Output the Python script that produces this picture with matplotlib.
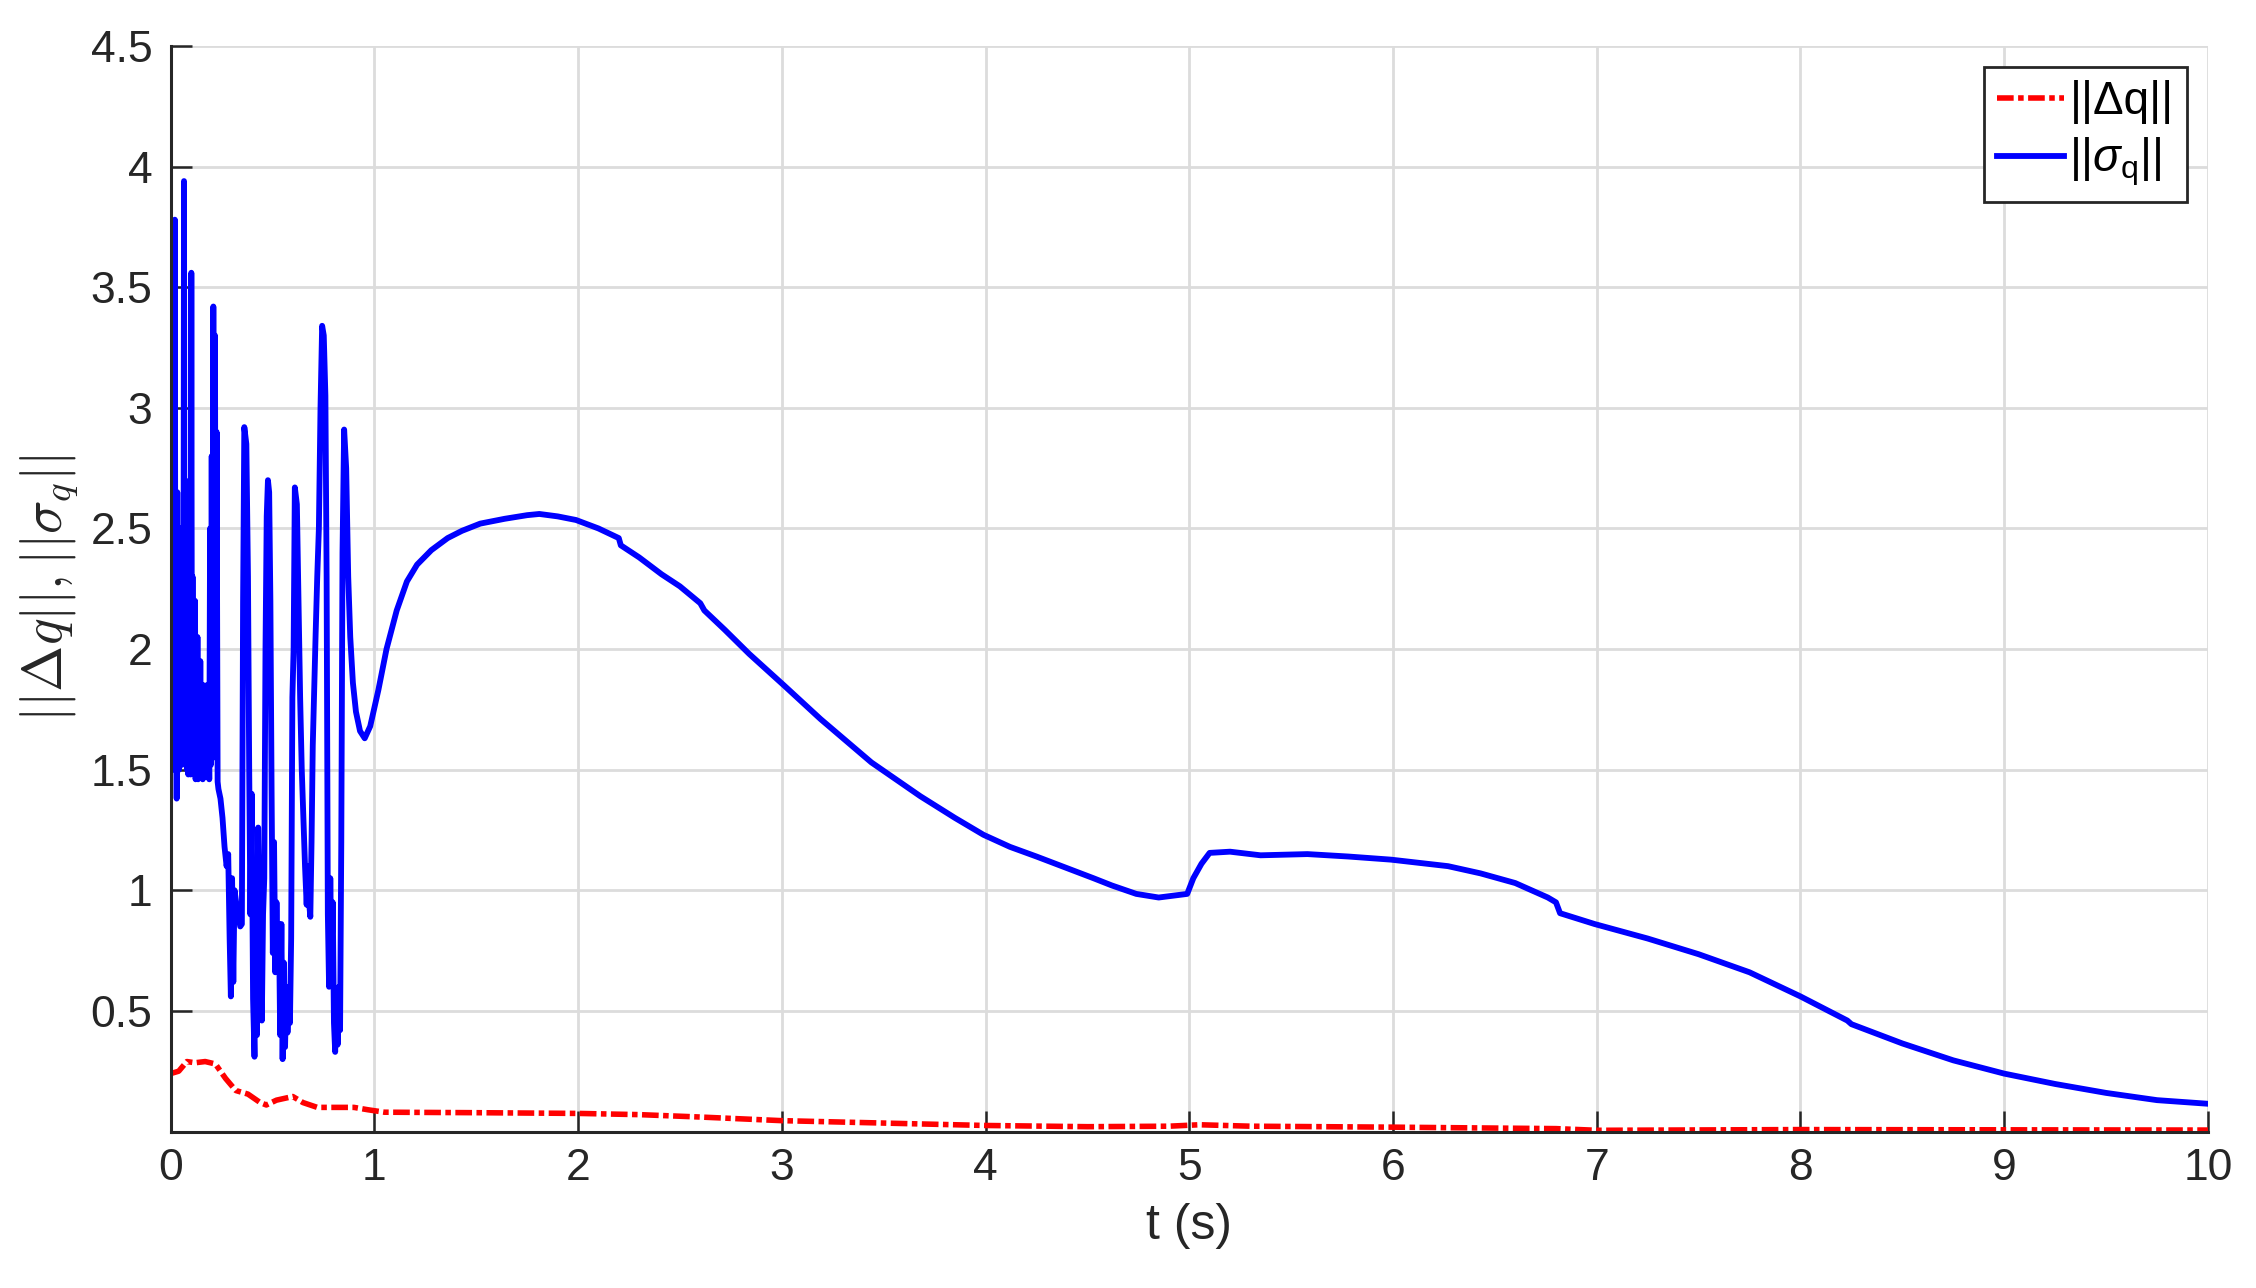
import matplotlib
matplotlib.use("Agg")
import matplotlib.pyplot as plt
from matplotlib.font_manager import FontProperties

plt.rcParams["font.family"] = ["Liberation Sans", "DejaVu Sans"]
plt.rcParams["mathtext.fontset"] = "custom"
plt.rcParams["mathtext.rm"] = "Liberation Sans"
plt.rcParams["mathtext.it"] = "Liberation Sans:italic"
plt.rcParams["mathtext.bf"] = "Liberation Sans:bold"

# ||sigma_q|| : oscillating start, then the smooth part
t_sigma = [
    0.000, 0.003, 0.006, 0.009, 0.012, 0.015, 0.018, 0.021, 0.024, 0.027,
    0.030, 0.033, 0.036, 0.039, 0.042, 0.045, 0.048, 0.052, 0.056, 0.060,
    0.063, 0.066, 0.069, 0.072, 0.075, 0.078, 0.081, 0.084, 0.087, 0.090,
    0.093, 0.096, 0.099, 0.102, 0.105, 0.108, 0.111, 0.114, 0.117, 0.120,
    0.123, 0.126, 0.129, 0.132, 0.135, 0.138, 0.142, 0.146, 0.150, 0.154,
    0.158, 0.162, 0.166, 0.170, 0.174, 0.178, 0.182, 0.186, 0.190, 0.194,
    0.198, 0.202, 0.206, 0.210, 0.214, 0.218, 0.222, 0.226, 0.231,
    0.235, 0.245, 0.255,
    0.265, 0.275, 0.283, 0.290, 0.296, 0.302, 0.308, 0.314, 0.322, 0.332,
    0.342, 0.350, 0.356, 0.362, 0.372, 0.380, 0.386, 0.392, 0.398, 0.405,
    0.412, 0.418, 0.424, 0.430, 0.436, 0.442, 0.448, 0.454, 0.460, 0.466,
    0.472, 0.478, 0.484, 0.490, 0.496, 0.502, 0.508, 0.514, 0.520, 0.526,
    0.532, 0.538, 0.544, 0.550, 0.556, 0.562, 0.568, 0.574, 0.580, 0.586,
    0.592, 0.598, 0.604, 0.610, 0.620, 0.628, 0.636, 0.644, 0.652, 0.660,
    0.668, 0.674, 0.680, 0.686, 0.692, 0.698, 0.704, 0.712, 0.720, 0.728,
    0.736, 0.744, 0.752, 0.760, 0.766, 0.772, 0.778, 0.784, 0.790, 0.796,
    0.802, 0.808, 0.814, 0.820, 0.826, 0.832, 0.838, 0.844, 0.852, 0.862,
    0.872, 0.882, 0.895, 0.910, 0.930, 0.953, 0.980, 1.020, 1.060, 1.110,
    1.160, 1.210, 1.280, 1.360, 1.430, 1.520, 1.640, 1.750, 1.810, 1.900,
    1.990, 2.100, 2.200, 2.210, 2.300, 2.410, 2.500, 2.600, 2.620, 2.720,
    2.840, 3.010, 3.190, 3.440, 3.680, 3.850, 3.990, 4.120, 4.250, 4.530,
    4.620, 4.740, 4.850, 4.990, 5.020, 5.060, 5.100, 5.200, 5.350, 5.580,
    5.780, 5.990, 6.270, 6.430, 6.600, 6.760, 6.800, 6.820, 6.990, 7.250,
    7.500, 7.750, 8.000, 8.230, 8.250, 8.500, 8.750, 9.000, 9.250, 9.500,
    9.750, 10.000,
]
sigma = [
    1.65, 3.20, 1.60, 2.90, 1.55, 2.20, 1.50, 3.78, 1.52, 2.40,
    1.38, 2.65, 1.55, 2.10, 1.50, 1.95, 1.58, 2.50, 1.52, 2.20,
    1.55, 3.94, 1.60, 2.70, 1.55, 2.30, 1.50, 2.10, 1.48, 2.00,
    1.50, 2.20, 1.48, 3.56, 1.55, 2.30, 1.50, 2.15, 1.55, 2.20,
    1.46, 1.90, 1.50, 2.05, 1.46, 1.80, 1.50, 1.95, 1.48, 1.75,
    1.46, 1.85, 1.47, 1.70, 1.48, 1.85, 1.47, 1.80, 1.46, 2.50,
    1.52, 2.80, 1.55, 3.42, 1.60, 3.30, 1.55, 2.90, 1.45,
    1.42, 1.38, 1.30,
    1.18, 1.10, 1.15, 0.80, 0.56, 1.05, 0.62, 1.00, 0.95, 0.90,
    0.85, 0.86, 2.20, 2.92, 2.85, 2.30, 1.50, 0.90, 1.40, 0.55,
    0.31, 0.80, 0.40, 1.26, 0.90, 1.10, 0.46, 0.90, 1.05, 2.00,
    2.55, 2.70, 2.65, 2.20, 1.40, 0.74, 1.20, 0.66, 0.95, 0.70,
    0.86, 0.40, 0.86, 0.30, 0.70, 0.35, 0.60, 0.41, 0.55, 0.45,
    0.80, 1.80, 2.00, 2.67, 2.60, 2.20, 1.80, 1.50, 1.30, 1.10,
    0.94, 1.10, 0.95, 0.89, 1.20, 1.60, 1.80, 2.06, 2.30, 2.50,
    3.00, 3.34, 3.30, 3.05, 2.30, 0.90, 0.60, 1.05, 0.70, 0.95,
    0.45, 0.33, 0.55, 0.36, 0.60, 0.42, 1.20, 2.40, 2.91, 2.75,
    2.30, 2.05, 1.86, 1.74, 1.66, 1.63, 1.68, 1.83, 2.00, 2.16,
    2.28, 2.35, 2.41, 2.46, 2.49, 2.52, 2.54, 2.555, 2.56, 2.55,
    2.535, 2.50, 2.46, 2.43, 2.38, 2.31, 2.26, 2.19, 2.16, 2.08,
    1.98, 1.85, 1.71, 1.53, 1.39, 1.30, 1.23, 1.18, 1.14, 1.05,
    1.02, 0.985, 0.97, 0.985, 1.05, 1.11, 1.155, 1.16, 1.145, 1.15,
    1.14, 1.127, 1.10, 1.07, 1.03, 0.97, 0.95, 0.905, 0.86, 0.80,
    0.735, 0.66, 0.56, 0.46, 0.445, 0.365, 0.295, 0.24, 0.197, 0.16,
    0.13, 0.115,
]

# ||Delta q||
t_dq = [
    0.00, 0.04, 0.08, 0.12, 0.17, 0.22, 0.27, 0.32, 0.38, 0.44,
    0.47, 0.52, 0.60, 0.65, 0.72, 0.80, 0.90, 0.97, 1.05, 1.50,
    2.00, 2.30, 2.60, 3.00, 3.50, 4.00, 4.50, 4.90, 5.05, 5.30,
    6.00, 6.80, 7.00, 8.00, 9.00, 10.00,
]
dq = [
    0.24, 0.25, 0.29, 0.285, 0.29, 0.28, 0.22, 0.17, 0.155, 0.12,
    0.11, 0.13, 0.145, 0.12, 0.10, 0.10, 0.10, 0.09, 0.08, 0.078,
    0.075, 0.07, 0.06, 0.045, 0.035, 0.025, 0.02, 0.022, 0.028, 0.022,
    0.018, 0.012, 0.005, 0.008, 0.007, 0.006,
]

x_ticks = list(range(0, 11))
y_ticks = [0.5, 1, 1.5, 2, 2.5, 3, 3.5, 4, 4.5]
y_tick_labels = ["0.5", "1", "1.5", "2", "2.5", "3", "3.5", "4", "4.5"]

fig = plt.figure(figsize=(22.56, 12.88), dpi=100)
ax = fig.add_axes([0.0756, 0.1215, 0.9031, 0.8428])

ax.plot(t_dq, dq, color="red", lw=4, dashes=(3.0, 0.8, 1.0, 0.8),
        label="||Δq||")
ax.plot(t_sigma, sigma, color="blue", lw=4.2, label=r"||$\sigma_\mathrm{q}$||")

ax.set_xlim(0, 10)
ax.set_ylim(0, 4.5)
ax.set_xticks(x_ticks)
ax.set_yticks(y_ticks)
ax.set_yticklabels(y_tick_labels)

ax.set_axisbelow(True)
ax.grid(True, color="#dcdcdc", lw=2)
for side in ["top", "right"]:
    ax.spines[side].set_visible(False)
for side in ["left", "bottom"]:
    ax.spines[side].set_linewidth(2.2)
    ax.spines[side].set_color("#262626")

ax.tick_params(direction="in", length=15, width=1.8, color="#262626",
               labelsize=32, labelcolor="#262626")
ax.tick_params(axis="x", pad=12)
ax.tick_params(axis="y", pad=13)

ax.set_xlabel("t (s)", fontsize=36, color="#262626", labelpad=10)
ax.set_ylabel(r"$||\Delta q||, ||\sigma_q||$", fontsize=40, color="#262626",
              math_fontfamily="cm", labelpad=8)

leg_font = FontProperties(family="Liberation Sans", size=33, math_fontfamily="custom")
leg = ax.legend(loc="upper right", prop=leg_font, fancybox=False, framealpha=1,
                edgecolor="#262626", handlelength=1.45, handletextpad=0.12,
                borderpad=0.3, labelspacing=0.25, borderaxespad=0.45)
leg.get_frame().set_linewidth(2)

fig.savefig("out.png", dpi=100)
